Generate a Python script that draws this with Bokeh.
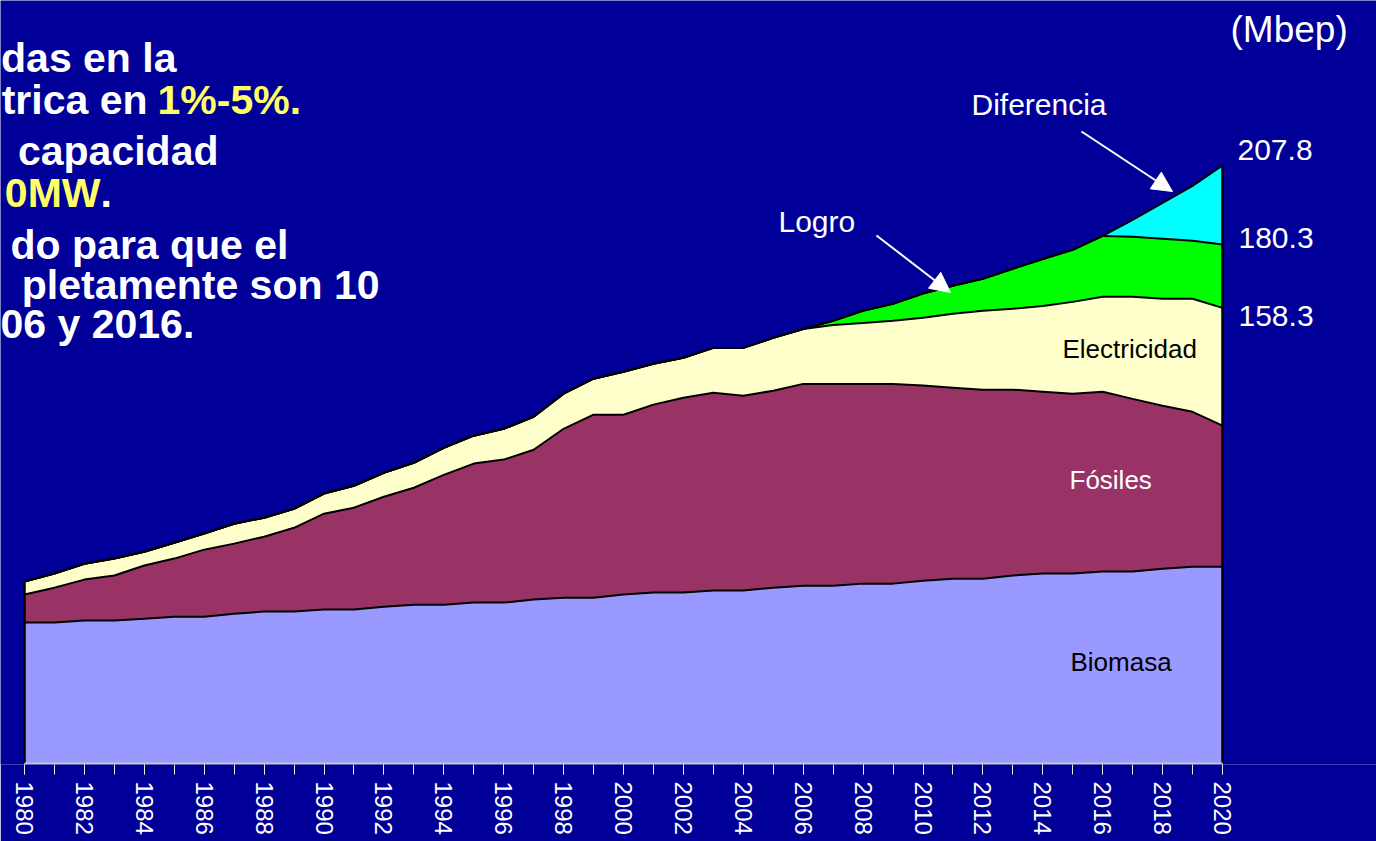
from bokeh.plotting import figure
from bokeh.models import ColumnDataSource, Range1d, FixedTicker, Label, Arrow, NormalHead
from bokeh.embed import file_html
from bokeh.resources import INLINE

# ---------------- data (Mbep) ----------------
years = list(range(1980, 2021))
biomasa = [49.0, 49.0, 49.7, 49.7, 50.3, 51.0, 51.0, 52.0, 52.8, 52.8,
           53.5, 53.5, 54.5, 55.2, 55.2, 55.9, 55.9, 57.0, 57.6, 57.6,
           58.7, 59.4, 59.4, 60.1, 60.1, 61.1, 61.8, 61.8, 62.5, 62.5,
           63.5, 64.2, 64.2, 65.3, 66.0, 66.0, 66.7, 66.7, 67.7, 68.4, 68.4]
fosiles = [9.7, 12.1, 14.2, 15.6, 18.5, 20.2, 23.3, 24.4, 26.0, 29.1,
           33.3, 35.4, 38.2, 40.6, 45.1, 48.3, 49.7, 52.0, 58.7, 63.6,
           62.5, 65.3, 67.7, 68.7, 67.7, 68.4, 70.1, 70.1, 69.4, 69.4,
           67.8, 66.4, 65.7, 64.6, 63.2, 62.5, 62.5, 60.0, 56.6, 53.8, 49.0]
electricidad = [4.5, 4.9, 5.5, 5.9, 4.8, 5.5, 5.6, 6.9, 6.6, 6.6,
                7.0, 7.6, 8.3, 8.7, 9.4, 9.7, 10.7, 11.5, 12.2, 12.5,
                14.9, 14.2, 13.9, 15.6, 16.6, 18.4, 19.1, 20.5, 21.2, 21.9,
                23.6, 25.7, 27.4, 28.1, 29.8, 31.9, 33.0, 35.5, 37.2, 39.3, 40.9]
logro = [0.0] * 26 + [0.0, 1.4, 4.2, 5.9, 8.4, 9.7, 11.1, 13.9, 16.3, 18.1,
                      21.1, 20.8, 20.8, 20.1, 22.0]
diferencia = [0.0] * 36 + [0.0, 5.9, 12.5, 19.1, 27.5]

series_names = ["Biomasa", "Fósiles", "Electricidad", "Logro", "Diferencia"]
series_colors = ["#9999FF", "#993366", "#FFFFCC", "#00FF00", "#00FFFF"]
label_years = [y for y in years if y % 2 == 0]

# ---------------- layout helpers (page pixels -> data units) ----------------
W, H = 1376, 841
X0_PAGE, PX_YEAR = 24, 29.95
Y0_PAGE, PX_UNIT = 763, 2.878
AXIS_PAGE_Y = 764


def xd(px):
    return years[0] + (px - X0_PAGE) / PX_YEAR


def yd(py):
    return (Y0_PAGE - py) / PX_UNIT


BG = "#000099"
FONT = "Liberation Sans"

src = ColumnDataSource(dict(year=years, bio=biomasa, fos=fosiles, ele=electricidad,
                            log=logro, dif=diferencia))
keys = ["bio", "fos", "ele", "log", "dif"]

p = figure(width=W, height=H,
           x_range=Range1d(xd(0), xd(W)), y_range=Range1d(yd(AXIS_PAGE_Y), yd(0)),
           output_backend="svg", toolbar_location=None, y_axis_location=None,
           min_border_left=0, min_border_right=0, min_border_top=0,
           min_border_bottom=H - AXIS_PAGE_Y,
           background_fill_color=BG, border_fill_color=BG, outline_line_color=None)
p.grid.visible = False

p.varea_stack(stackers=keys, x="year", color=series_colors, source=src)
p.vline_stack(stackers=keys, x="year", line_color="black", line_width=2, source=src)

totals = [b + f + e + l + d for b, f, e, l, d in zip(biomasa, fosiles, electricidad, logro, diferencia)]
# side outlines of the stacked block
p.segment(x0=[years[0], years[-1]], y0=[0, 0], x1=[years[0], years[-1]],
          y1=[totals[0], totals[-1]], line_color="black", line_width=2.5)
# axis baseline spanning the data years only
p.segment(x0=[years[0]], y0=[0], x1=[years[-1]], y1=[0], line_color="#C8C8C8", line_width=2)

ax = p.xaxis[0]
ax.ticker = FixedTicker(ticks=label_years, minor_ticks=years)
ax.major_label_orientation = "vertical"
ax.major_label_text_font = FONT
ax.major_label_text_font_size = "24px"
ax.major_label_text_color = "white"
ax.major_label_standoff = 7
ax.major_tick_in = 0
ax.major_tick_out = 10
ax.minor_tick_in = 0
ax.minor_tick_out = 10
ax.major_tick_line_color = "#E8E8E8"
ax.minor_tick_line_color = "#E8E8E8"
ax.axis_line_color = None


def add_label(text, px, py, size, color="white", align="left", bold=False):
    # py is the visual baseline in page pixels; compensate renderer baseline offset
    py = py - 0.36 * size
    p.add_layout(Label(x=xd(px), y=yd(py), text=text, text_color=color,
                       text_font=FONT, text_font_size=f"{size}px",
                       text_font_style="bold" if bold else "normal",
                       text_align=align, text_baseline="alphabetic"))


# unit and end values
add_label("(Mbep)", 1230, 42, 37)
end_tops = [biomasa[-1] + fosiles[-1] + electricidad[-1],
            biomasa[-1] + fosiles[-1] + electricidad[-1] + logro[-1],
            totals[-1]]
add_label(f"{end_tops[2]:.1f}", 1237, 160, 30)
add_label(f"{end_tops[1]:.1f}", 1238, 248, 30)
add_label(f"{end_tops[0]:.1f}", 1238, 326, 30)

# series names
add_label(series_names[4], 971, 115, 30)
add_label(series_names[3], 778, 232, 30)
add_label(series_names[2], 1062, 358, 26, color="black")
add_label(series_names[1], 1069, 489, 26)
add_label(series_names[0], 1070, 671, 26, color="black")

# arrows
for (x0, y0, x1, y1) in [(1081, 131, 1172, 191), (876, 235, 950, 292)]:
    p.add_layout(Arrow(end=NormalHead(size=20, fill_color="white", line_color="white"),
                       x_start=xd(x0), y_start=yd(y0), x_end=xd(x1), y_end=yd(y1),
                       line_color="white", line_width=2))

# bold text block (cut at the left edge in the original slide)
YEL = "#FFFF66"
BS = 41
add_label("das en la", 176, 72, BS, align="right", bold=True)
add_label("trica en", 147, 114, BS, align="right", bold=True)
add_label("1%-5%.", 157, 114, BS, color=YEL, bold=True)
add_label("capacidad", 218, 165, BS, align="right", bold=True)
add_label("0MW", 100, 207, BS, color=YEL, align="right", bold=True)
add_label(".", 100, 207, BS, bold=True)
add_label("do para que el", 288, 259, BS, align="right", bold=True)
add_label("pletamente son 10", 379, 299, BS, align="right", bold=True)
add_label("06 y 2016.", 0, 338, BS, bold=True)

open("out.html", "w").write(file_html(p, INLINE))
